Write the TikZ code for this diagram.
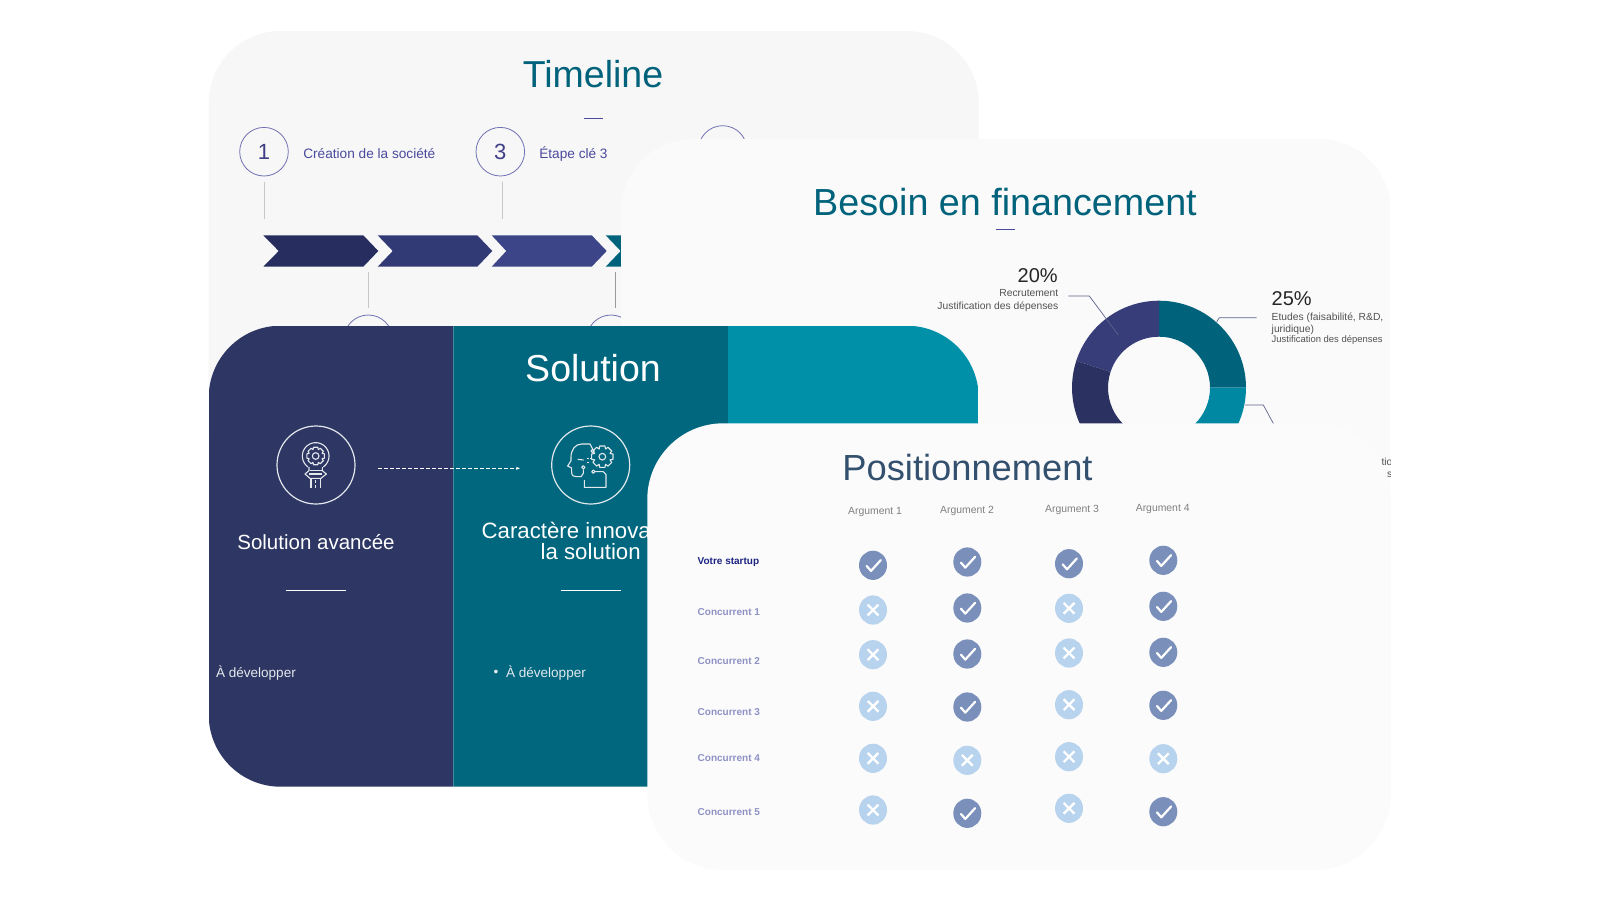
\documentclass[tikz,border=0pt]{standalone}
\usepackage{fontspec}
\setmainfont{Liberation Sans}
\usetikzlibrary{calc,arrows.meta}
\definecolor{cardA}{HTML}{F7F7F7}
\definecolor{cardB}{HTML}{FAFAFA}
\definecolor{cardC}{HTML}{FBFBFC}
\definecolor{navy}{HTML}{2E3663}
\definecolor{teal}{HTML}{00677F}
\definecolor{bright}{HTML}{0091A9}
\definecolor{titleteal}{HTML}{00627B}
\definecolor{violet}{HTML}{4A4A9E}
\definecolor{ringc}{HTML}{7070B4}
\definecolor{okfill}{HTML}{7A90BB}
\definecolor{nofill}{HTML}{B7D3EE}
\definecolor{iconc}{HTML}{E2E8EC}
\definecolor{chA}{HTML}{272D5E}
\definecolor{chB}{HTML}{323A75}
\definecolor{chC}{HTML}{3B4588}
\definecolor{dT}{HTML}{00627B}
\definecolor{dB}{HTML}{0088A3}
\definecolor{dN}{HTML}{363D78}
\definecolor{dD}{HTML}{2B3160}
\definecolor{votre}{HTML}{1D2380}
\definecolor{conc}{HTML}{8E92C4}
\definecolor{ptitle}{HTML}{33506E}
\definecolor{leadc}{HTML}{5E6390}
\tikzset{
  every node/.style={inner sep=0pt,outer sep=0pt},
  bigtitle/.style={font=\fontsize{37.5}{40}\selectfont,text=titleteal},
  ring/.style={circle,draw=ringc,line width=.8pt,minimum size=48.6pt,text=violet!85!black,font=\fontsize{22}{24}\selectfont},
  steptext/.style={anchor=west,text=violet,font=\fontsize{13.65}{16}\selectfont},
  stem/.style={draw=black!22,line width=.8pt},
  titlebar/.style={draw=violet,line width=1.1pt},
  wicon/.style={draw=iconc,line width=1.1pt,line join=round},
  wring/.style={circle,draw=iconc,line width=1.2pt,minimum size=78pt},
  whead/.style={text=white,font=\fontsize{20.5}{23}\selectfont},
  wheadb/.style={text=white,anchor=west,font=\fontsize{22.2}{24}\selectfont},
  wbody/.style={anchor=west,text=iconc,font=\fontsize{13.55}{15}\selectfont},
  pct/.style={text=black!85,font=\fontsize{20}{22}\selectfont},
  small/.style={text=black!68,font=\fontsize{10.3}{12}\selectfont},
  leader/.style={draw=leadc,line width=.7pt},
  arghead/.style={text=black!50,font=\fontsize{10.4}{12}\selectfont},
  rowlab/.style={anchor=west,font=\bfseries\fontsize{10}{12}\selectfont},
}
\newcommand{\gearicon}[4]{% cx cy Ro Ri
  \draw[wicon] ($(#1,#2)+(-14:#3)$)
    \foreach \a in {0,45,...,315}{ -- ($(#1,#2)+(\a-14:#3)$) -- ($(#1,#2)+(\a+14:#3)$) -- ($(#1,#2)+(\a+22:#4)$) -- ($(#1,#2)+(\a+23:#4)$)} -- cycle;
}
\newcommand{\okmark}[2]{%
  \fill[okfill] (#1,#2) ellipse (14 and 14.6);
  \draw[white,line width=2.2pt,line cap=round,line join=round] ($(#1,#2)+(-6.3,.7)$) -- ($(#1,#2)+(-2,5.6)$) -- ($(#1,#2)+(7.8,-5.2)$);
}
\newcommand{\nomark}[2]{%
  \fill[nofill] (#1,#2) ellipse (14 and 14.6);
  \draw[white,line width=2.4pt] ($(#1,#2)+(-5.4,-5.4)$) -- ($(#1,#2)+(5.4,5.4)$) ($(#1,#2)+(-5.4,5.4)$) -- ($(#1,#2)+(5.4,-5.4)$);
}
\begin{document}
\begin{tikzpicture}[x=1pt,y=-1pt]
\useasboundingbox[fill=white] (0,0) rectangle (1600,900);

% ---------- Timeline card
\fill[cardA,rounded corners=72pt] (208.7,31) rectangle (978.7,500);
\node[bigtitle] (ttl) at (593,74) {Timeline};
\draw[titlebar] (584,118.3) -- (602.7,118.3);
\node[ring] (c1) at (264,151.7) {\raisebox{-1pt}{1}};
\node[ring] (c3) at (500.3,151.7) {\raisebox{-1pt}{3}};
\node[ring] (c5) at (722.7,150) {};
\node[ring] (c2) at (368.3,339.3) {};
\node[ring] (c4) at (611,339.3) {};
\node[steptext] (s1) at (303.3,154) {Création de la société};
\node[steptext] (s3) at (539.3,153.5) {Étape clé 3};
\coordinate (a1) at (264.3,181.7); \coordinate (b1) at (264.3,219);
\coordinate (a3) at (502,181.7);   \coordinate (b3) at (502,219);
\coordinate (a2) at (368.3,271.7); \coordinate (b2) at (368.3,308);
\coordinate (a4) at (615.3,271.7); \coordinate (b4) at (615.3,308);
\draw[stem] (a1) -- (b1);
\draw[stem] (a3) -- (b3);
\draw[stem] (a2) -- (b2);
\draw[stem,draw=black!40] (a4) -- (b4);
\fill[chA] (263.3,235.3) -- (363.3,235.3) -- (378.3,251) -- (363.3,266.7) -- (263.3,266.7) -- (278.7,251) -- cycle;
\fill[chB] (377.7,235.3) -- (477.3,235.3) -- (492.3,251) -- (477.3,266.7) -- (377.7,266.7) -- (392.7,251) -- cycle;
\fill[chC] (491.7,235.3) -- (591.7,235.3) -- (606.7,251) -- (591.7,266.7) -- (491.7,266.7) -- (506.3,251) -- cycle;
\fill[titleteal] (605.7,235.3) -- (640,235.3) -- (640,266.7) -- (605.7,266.7) -- (620.7,251) -- cycle;

% ---------- Financing card
\begin{scope}
\clip[rounded corners=72pt] (620.7,139) rectangle (1390.7,780);
\fill[cardB] (620.7,139) rectangle (1390.7,780);
\node[bigtitle,font=\fontsize{37.7}{40}\selectfont] (ftl) at (1005,202.3) {Besoin en financement};
\draw[titlebar] (995.7,229.3) -- (1015,229.3);
% donut
\coordinate (dc) at (1159,387.7);
\fill[dT] (1159,300.7) arc[start angle=-90,end angle=0,radius=87] -- (1210,387.7) arc[start angle=0,end angle=-90,radius=51] -- cycle;
\fill[dB] (1246,387.7) arc[start angle=0,end angle=90,radius=87] -- (1159,438.7) arc[start angle=90,end angle=0,radius=51] -- cycle;
\fill[dN] (1159,300.7) arc[start angle=-90,end angle=-162,radius=87] -- ($(dc)+(-162:51)$) arc[start angle=-162,end angle=-90,radius=51] -- cycle;
\fill[dD] ($(dc)+(-162:87)$) arc[start angle=-162,end angle=-270,radius=87] -- (1159,438.7) arc[start angle=-270,end angle=-162,radius=51] -- cycle;
% labels
\node[pct,anchor=east] (p20) at (1057.7,276) {20\%};
\node[small,anchor=east] (r1) at (1058.3,292.7) {Recrutement};
\node[small,anchor=east] (r2) at (1058.3,306.5) {Justification des dépenses};
\node[pct,anchor=west] (p25) at (1271.7,299) {25\%};
\node[small,anchor=west] (e1) at (1271.7,317.3) {Etudes (faisabilité, R\&D,};
\node[small,anchor=west] (e2) at (1271.7,329.7) {juridique)};
\node[small,anchor=west,font=\fontsize{9.45}{12}\selectfont] (e3) at (1271.7,340.3) {Justification des dépenses};
\coordinate (l1a) at (1068.3,296); \coordinate (l1b) at (1089.3,296); \coordinate (l1c) at (1118.3,335);
\coordinate (l2a) at (1256.7,317.7); \coordinate (l2b) at (1219.3,317.7); \coordinate (l2c) at (1216.7,321.7);
\coordinate (l3a) at (1245,405); \coordinate (l3b) at (1263.3,405); \coordinate (l3c) at (1278,432);
\draw[leader] (l1a) -- (l1b) -- (l1c);
\draw[leader] (l2a) -- (l2b) -- (l2c);
\draw[leader] (l3a) -- (l3b) -- (l3c);
\node[small,anchor=west] (f1) at (1381.5,461.7) {tio};
\node[small,anchor=west] (f2) at (1387,474.5) {s};
\end{scope}

% ---------- Solution card
\begin{scope}
\clip[rounded corners=72pt] (208.7,325.7) rectangle (978.7,786.7);
\fill[navy] (208.7,325.7) rectangle (453.3,786.7);
\fill[teal] (453.3,325.7) rectangle (727.5,786.7);
\fill[bright] (727.5,325.7) rectangle (978.7,786.7);
\end{scope}
\draw[white,opacity=.25,line width=.6pt] (453.3,325.7) -- (453.3,786.7);
\node[bigtitle,text=white] (stl) at (593,368.5) {Solution};
\node[wring] (r1n) at (316,465) {};
\node[wring] (r2n) at (590.7,465) {};
\coordinate (da) at (378.3,468.3); \coordinate (db) at (520,468.3);
\draw[white,line width=.7pt,dash pattern=on 4pt off 2pt,-{Stealth[length=4pt,width=3pt]}] (da) -- (db);
% bulb icon
\begin{scope}[shift={(285,430)}]
\begin{scope}[x=.3333pt,y=-.3333pt]
\draw[wicon] plot[domain=125:415,samples=40] ({92+40*cos(\x)},{78+40*sin(\x)});
\gearicon{92}{78}{27}{21}
\draw[wicon] (92,78) circle (10);
\draw[wicon] (72,111) -- (72,122) -- (60,132) -- (75,145) -- (108,145) -- (124,132) -- (112,122) -- (112,111);
\draw[wicon] (75,122) -- (110,122) (72,132) -- (112,132);
\draw[wicon] (78,145) -- (78,175) (106,145) -- (106,175) (92,150) -- (92,158) (92,165) -- (92,175);
\end{scope}
\end{scope}
% head icon
\begin{scope}[shift={(555,430)}]
\begin{scope}[x=.3333pt,y=-.3333pt]
\draw[wicon] (113,57) -- (105,42) -- (80,42) .. controls (60,42) and (48,60) .. (48,82) -- (48,92) -- (38,108) -- (50,114) -- (50,128) .. controls (50,138) and (58,140) .. (64,140) -- (78,140) -- (85,130) -- (85,118);
\draw[wicon] (113,63) circle (5) (85,112) circle (5) (115,125) circle (5);
\draw[wicon] (120,125) -- (145,125) -- (153,133) -- (153,172) -- (88,172) -- (88,150);
\draw[wicon] (68,88) -- (86,90);
\draw[wicon] (99,84) -- (99,88) (99,96) -- (99,100) (106,84) -- (106,88);
\gearicon{142}{80}{33}{25}
\draw[wicon] (142,80) circle (10);
\end{scope}
\end{scope}
\node[whead] (h1) at (316,541.7) {Solution avancée};
\node[wheadb] (h2) at (481.7,530.5) {Caractère innova};
\node[wheadb] (h3) at (540.7,552) {la solution};
\draw[white,line width=1.2pt] (286,590.7) -- (346,590.7);
\draw[white,line width=1.2pt] (560.7,590.7) -- (620.7,590.7);
\node[wbody] (d1) at (216,673.3) {À développer};
\node[wbody] (d2) at (493.5,673.3) {•};
\node[wbody] (d3) at (506,673.3) {À développer};

% ---------- Positioning card
\fill[cardC,rounded corners=76pt] (647.3,423.3) rectangle (1390.7,870);
\node[font=\fontsize{36.3}{40}\selectfont,text=ptitle] (ptl) at (967.5,468) {Positionnement};
\node[arghead] (g1) at (875,512) {Argument 1};
\node[arghead] (g2) at (967,511) {Argument 2};
\node[arghead] (g3) at (1072,510.2) {Argument 3};
\node[arghead] (g4) at (1162.7,509) {Argument 4};
\node[rowlab,text=votre] (v0) at (697.7,561.7) {Votre startup};
\node[rowlab,text=conc] (v1) at (697.7,612.5) {Concurrent 1};
\node[rowlab,text=conc] (v2) at (697.7,661) {Concurrent 2};
\node[rowlab,text=conc] (v3) at (697.7,712) {Concurrent 3};
\node[rowlab,text=conc] (v4) at (697.7,758.5) {Concurrent 4};
\node[rowlab,text=conc] (v5) at (697.7,812) {Concurrent 5};
\okmark{873}{565.3}\nomark{873}{610}\nomark{873}{654.7}\nomark{873}{706.3}\nomark{873}{758.3}\nomark{873}{810}
\okmark{967.3}{562}\okmark{967.3}{608}\okmark{967.3}{654}\okmark{967.3}{707}\nomark{967.3}{760.3}\okmark{967.3}{813.3}
\okmark{1069}{563.7}\nomark{1069}{608.3}\nomark{1069}{653}\nomark{1069}{704.7}\nomark{1069}{756.7}\nomark{1069}{808.3}
\okmark{1163.3}{560.3}\okmark{1163.3}{606.3}\okmark{1163.3}{652.3}\okmark{1163.3}{705.3}\nomark{1163.3}{758.7}\okmark{1163.3}{811.7}
\end{tikzpicture}
\end{document}
